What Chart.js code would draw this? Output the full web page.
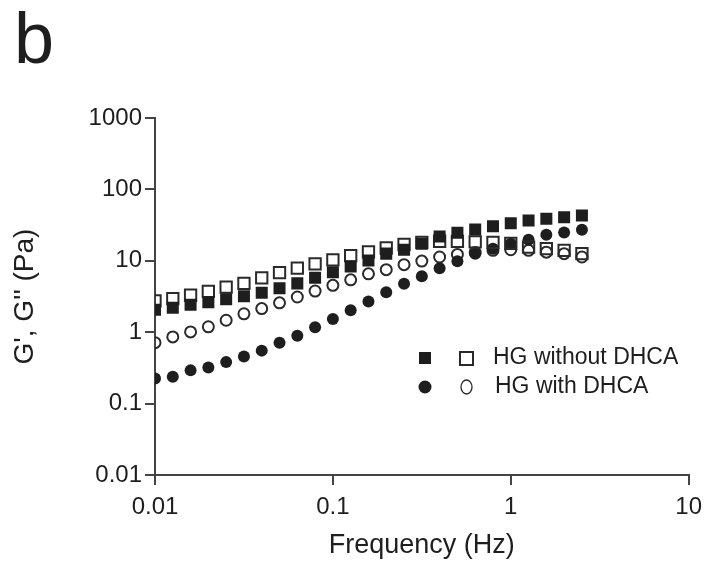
<!DOCTYPE html>
<html>
<head>
<meta charset="utf-8">
<script src="https://cdn.jsdelivr.net/npm/chart.js@4.4.1/dist/chart.umd.min.js"></script>
<style>
  html, body { margin: 0; padding: 0; background: #fff; }
  canvas { display: block; }
</style>
</head>
<body>
<canvas id="rheoChart" width="710" height="567"></canvas>
<script>
// frequency sweep points (Hz), 10 per decade
const frequency = [0.01, 0.01259, 0.01585, 0.01995, 0.02512, 0.03162, 0.03981, 0.05012, 0.0631, 0.07943,
  0.1, 0.1259, 0.1585, 0.1995, 0.2512, 0.3162, 0.3981, 0.5012, 0.631, 0.7943,
  1.0, 1.259, 1.585, 1.995, 2.512];

// HG without DHCA: G' (filled squares), G'' (open squares)
const storageWithout = [2.07, 2.2, 2.42, 2.62, 2.89, 3.18, 3.56, 4.12, 4.83, 5.77,
  6.89, 8.35, 10.1, 12.6, 14.3, 17.3, 21.9, 24.7, 27.5, 30.5,
  33.6, 36.7, 38.7, 40.8, 43.0];
const lossWithout = [2.74, 2.96, 3.29, 3.74, 4.29, 4.83, 5.77, 6.82, 7.88, 9.05,
  10.3, 11.8, 13.3, 15.1, 16.9, 18.1, 18.8, 18.7, 18.4, 18.1,
  17.5, 15.5, 14.8, 14.0, 12.6];

// HG with DHCA: G' (filled circles), G'' (open circles)
const storageWith = [0.224, 0.238, 0.292, 0.321, 0.381, 0.458, 0.552, 0.709, 0.894, 1.17,
  1.53, 2.03, 2.69, 3.62, 4.76, 6.09, 7.88, 9.82, 12.6, 14.8,
  17.3, 19.7, 23.2, 24.9, 27.3];
const lossWith = [0.714, 0.86, 1.01, 1.19, 1.47, 1.81, 2.14, 2.58, 3.11, 3.77,
  4.53, 5.41, 6.56, 7.51, 8.83, 9.91, 11.3, 12.3, 13.1, 14.0,
  14.3, 14.0, 13.2, 12.6, 11.3];

const xTicks = [0.01, 0.1, 1, 10];
const yTicks = [0.01, 0.1, 1, 10, 100, 1000];
const legendLabels = ["HG without DHCA", "HG with DHCA"];

const FONT = '"Liberation Sans", Arial, sans-serif';
const INK = "#1e1e1e";
const AXIS = "#444";

const toPoints = (ys) => frequency.map((f, i) => ({ x: f, y: ys[i] }));

// panel letter + two-marker legend
const extras = {
  id: "extras",
  afterDraw(chart) {
    const ctx = chart.ctx;
    ctx.save();
    ctx.fillStyle = INK;
    ctx.font = "72px " + FONT;
    ctx.textBaseline = "alphabetic";
    ctx.fillText("b", 14, 63);

    // row 1: squares
    ctx.fillRect(419, 352, 12, 12);
    ctx.strokeStyle = "#2a2a2a";
    ctx.lineWidth = 2;
    ctx.strokeRect(460, 352, 13, 13);
    // row 2: circles
    ctx.beginPath();
    ctx.arc(425, 387, 6.5, 0, Math.PI * 2);
    ctx.fill();
    ctx.lineWidth = 1.3;
    ctx.beginPath();
    ctx.ellipse(466.5, 387, 5.5, 7, 0, 0, Math.PI * 2);
    ctx.stroke();

    ctx.font = "23px " + FONT;
    ctx.textBaseline = "middle";
    ctx.fillText(legendLabels[0], 493, 358);
    ctx.fillText(legendLabels[1], 495, 387);
    ctx.restore();
  }
};

const axisCommon = {
  type: "logarithmic",
  grid: { drawOnChartArea: false, drawTicks: true, tickLength: 10, color: AXIS, lineWidth: 2 },
  border: { display: true, color: AXIS, width: 2 },
};

new Chart(document.getElementById("rheoChart"), {
  type: "scatter",
  data: {
    datasets: [
      {
        label: "G' without DHCA",
        data: toPoints(storageWithout),
        pointStyle: "rect",
        pointRadius: 8.5,
        backgroundColor: INK,
        borderWidth: 0,
      },
      {
        label: "G'' without DHCA",
        data: toPoints(lossWithout),
        pointStyle: "rect",
        pointRadius: 8,
        backgroundColor: "rgba(0,0,0,0)",
        borderColor: "#2a2a2a",
        borderWidth: 2,
      },
      {
        label: "G' with DHCA",
        data: toPoints(storageWith),
        pointStyle: "circle",
        pointRadius: 6,
        backgroundColor: INK,
        borderWidth: 0,
      },
      {
        label: "G'' with DHCA",
        data: toPoints(lossWith),
        pointStyle: "circle",
        pointRadius: 5.5,
        backgroundColor: "rgba(0,0,0,0)",
        borderColor: "#2a2a2a",
        borderWidth: 2,
      },
    ],
  },
  options: {
    responsive: false,
    animation: false,
    layout: { padding: { left: 0, top: 118, right: 15, bottom: 0 } },
    plugins: { legend: { display: false }, tooltip: { enabled: false } },
    scales: {
      x: {
        ...axisCommon,
        min: 0.01,
        max: 10,
        afterBuildTicks: (s) => { s.ticks = xTicks.map((v) => ({ value: v })); },
        afterFit: (s) => { s.height = 92; },
        ticks: { callback: (v) => String(v), color: INK, font: { family: FONT, size: 24 }, padding: 8, maxRotation: 0, autoSkip: false },
        title: { display: true, text: "Frequency (Hz)", color: INK, font: { family: FONT, size: 27 }, padding: { top: 5, bottom: 5 } },
      },
      y: {
        ...axisCommon,
        min: 0.01,
        max: 1000,
        afterBuildTicks: (s) => { s.ticks = yTicks.map((v) => ({ value: v })); },
        afterFit: (s) => { s.width = 155; },
        ticks: { callback: (v) => String(v), color: INK, font: { family: FONT, size: 24 }, padding: 3, autoSkip: false },
        title: { display: true, text: "G', G'' (Pa)", color: INK, font: { family: FONT, size: 28 }, padding: { top: 8, bottom: 8 } },
      },
    },
  },
  plugins: [extras],
});
</script>
</body>
</html>
